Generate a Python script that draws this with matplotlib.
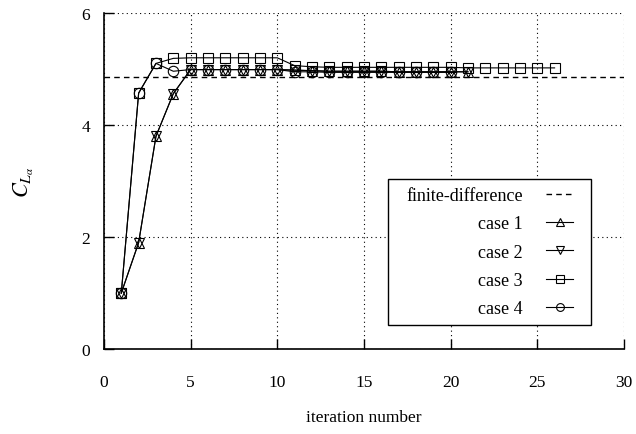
import matplotlib
matplotlib.use("Agg")
import matplotlib.pyplot as plt
from matplotlib.patches import Rectangle

plt.rcParams['font.family'] = ['Liberation Serif', 'DejaVu Serif']
plt.rcParams['mathtext.fontset'] = 'stix'

# convergence of the lift-curve slope for each case
it_12 = list(range(1, 22))
case1 = [1.0, 1.9, 3.8, 4.56, 4.99, 4.99, 4.99, 4.99, 4.99, 4.99,
         4.98, 4.97, 4.96, 4.96, 4.96, 4.96, 4.95, 4.95, 4.95, 4.95, 4.95]
case2 = [1.0, 1.9, 3.8, 4.56, 4.99, 4.99, 4.99, 4.99, 4.99, 4.99,
         4.98, 4.97, 4.96, 4.96, 4.96, 4.96, 4.95, 4.95, 4.95, 4.95, 4.95]

it_3 = list(range(1, 27))
case3 = [1.0, 4.57, 5.1, 5.19, 5.2, 5.2, 5.2, 5.2, 5.2, 5.2,
         5.06, 5.04, 5.03, 5.03, 5.03, 5.03, 5.03, 5.03, 5.03, 5.03,
         5.02, 5.02, 5.02, 5.02, 5.02, 5.02]

it_4 = list(range(1, 21))
case4 = [1.0, 4.57, 5.1, 4.96, 4.99, 4.99, 4.99, 4.99, 4.99, 4.99,
         4.95, 4.95, 4.94, 4.94, 4.94, 4.94, 4.94, 4.94, 4.94, 4.94]

fd_value = 4.85

fig = plt.figure(figsize=(6.36, 4.35), dpi=100)
ax = fig.add_axes([0.1635, 0.1954, 0.8175, 0.7724])

ax.axhline(fd_value, color='black', ls=(0, (4, 3)), lw=1.0, label='finite-difference')
style = dict(color='black', lw=0.8, ms=7.5, mfc='none', mec='black', mew=0.8)
ax.plot(it_12, case1, marker='^', label='case 1', **style)
ax.plot(it_12, case2, marker='v', label='case 2', **style)
ax.plot(it_3, case3, marker='s', label='case 3', **style)
ax.plot(it_4, case4, marker='o', label='case 4', **style)

ax.set_xlim(0, 30)
ax.set_ylim(0, 6)
ax.set_xticks([0, 5, 10, 15, 20, 25, 30])
ax.set_yticks([0, 2, 4, 6])
ax.grid(True, color='black', ls=(0, (1, 3)), lw=0.8)
ax.spines['top'].set_visible(False)
ax.spines['right'].set_visible(False)
ax.spines['left'].set_linewidth(1.2)
ax.spines['bottom'].set_linewidth(1.2)
ax.tick_params(direction='in', length=7, width=1, labelsize=12.5)
ax.tick_params(axis='x', pad=18)
ax.tick_params(axis='y', pad=10)

ax.set_xlabel('iteration number', fontsize=12.5, labelpad=14)
ax.set_ylabel(r'$C_{L_\alpha}$', fontsize=16, labelpad=33)

leg = ax.legend(loc='lower right', bbox_to_anchor=(0.918, 0.071), borderaxespad=0,
                markerfirst=False, fontsize=13, frameon=False,
                handlelength=1.5, markerscale=0.75,
                handletextpad=1.3, labelspacing=0.62, borderpad=0.45)
leg._legend_box.align = 'right'

# box around the legend, wider than the default frame
fig.canvas.draw()
bb = leg.get_window_extent().transformed(ax.transAxes.inverted())
padx = 10 / (ax.bbox.width)
frame = Rectangle((bb.x0 - padx, bb.y0), bb.width + 2 * padx, bb.height,
                  transform=ax.transAxes, facecolor='white', edgecolor='black',
                  lw=1.0, zorder=4.9, clip_on=False)
ax.add_patch(frame)

fig.savefig('out.png', dpi=100)
